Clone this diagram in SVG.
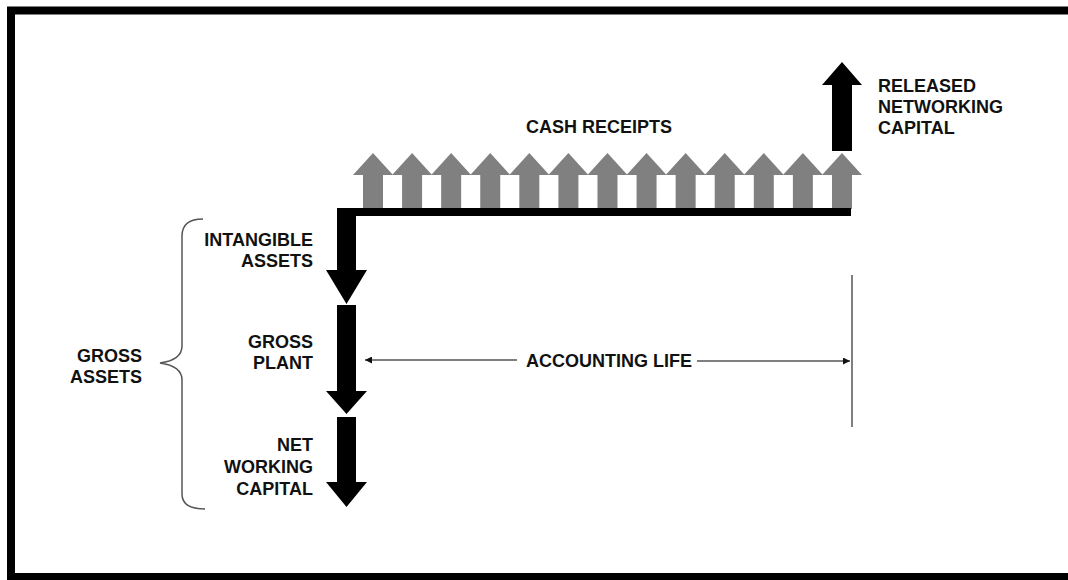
<svg xmlns="http://www.w3.org/2000/svg" width="1068" height="580" viewBox="0 0 1068 580">
<defs>
<style>
.t{font-family:"Liberation Sans",Arial,sans-serif;font-weight:bold;font-size:18px;fill:#111}
.r{text-anchor:end}
.g{fill:#808080}
.b{fill:#000}
.ln{stroke:#555;stroke-width:1.5;fill:none}
</style>
<marker id="ah" viewBox="0 0 10 10" refX="10" refY="5" markerWidth="9" markerHeight="7" markerUnits="userSpaceOnUse" orient="auto-start-reverse"><path d="M0,0 L10,5 L0,10 Z" fill="#111"/></marker>
<g id="garrow"><rect x="-10" y="175" width="20" height="34" class="g"/><polygon points="-20,175 0,153 20,175" class="g"/></g>
</defs>
<rect width="1068" height="580" fill="#fff"/>
<rect x="11" y="10.5" width="1100" height="566.5" fill="none" stroke="#000" stroke-width="8"/>

<g id="cash-receipts">
<use href="#garrow" x="373"/>
<use href="#garrow" x="412.08"/>
<use href="#garrow" x="451.16"/>
<use href="#garrow" x="490.24"/>
<use href="#garrow" x="529.32"/>
<use href="#garrow" x="568.4"/>
<use href="#garrow" x="607.48"/>
<use href="#garrow" x="646.56"/>
<use href="#garrow" x="685.64"/>
<use href="#garrow" x="724.72"/>
<use href="#garrow" x="763.8"/>
<use href="#garrow" x="802.88"/>
<use href="#garrow" x="842"/>
<text class="t" x="599" y="133" text-anchor="middle">CASH RECEIPTS</text>
</g>

<g id="timeline">
<rect x="337" y="208" width="514" height="8" class="b"/>
</g>

<g id="released">
<polygon class="b" points="832,151 852,151 852,85 862,85 842,62 822,85 832,85"/>
<text class="t" x="878" y="92">RELEASED</text>
<text class="t" x="878" y="113">NETWORKING</text>
<text class="t" x="878" y="134">CAPITAL</text>
</g>

<g id="intangible">
<polygon class="b" points="337,208 356,208 356,270 367,270 346.5,304 326,270 337,270"/>
<text class="t r" x="313" y="246">INTANGIBLE</text>
<text class="t r" x="313" y="267">ASSETS</text>
</g>

<g id="gross-plant">
<polygon class="b" points="337,305 356,305 356,391 367,391 346.5,414 326,391 337,391"/>
<text class="t r" x="313" y="348">GROSS</text>
<text class="t r" x="313" y="369">PLANT</text>
</g>

<g id="net-working">
<polygon class="b" points="337,417 356,417 356,482 367,482 346.5,507 326,482 337,482"/>
<text class="t r" x="313" y="451">NET</text>
<text class="t r" x="313" y="473">WORKING</text>
<text class="t r" x="313" y="495">CAPITAL</text>
</g>

<g id="gross-assets">
<path class="ln" d="M203,219 Q182,219 182,236 L182,346 Q182,360 160,363 Q182,366 182,380 L182,494 Q182,509 205,509" stroke="#666" stroke-width="1.3"/>
<text class="t r" x="142" y="362">GROSS</text>
<text class="t r" x="142" y="383">ASSETS</text>
</g>

<g id="connectors">
<line class="ln" x1="852" y1="275" x2="852" y2="427"/>
<line class="ln" x1="517" y1="360" x2="365" y2="360" marker-end="url(#ah)"/>
<line class="ln" x1="697" y1="361" x2="850" y2="361" marker-end="url(#ah)"/>
</g>
<g id="accounting-life">
<text class="t" x="526" y="367">ACCOUNTING LIFE</text>
</g>
</svg>
